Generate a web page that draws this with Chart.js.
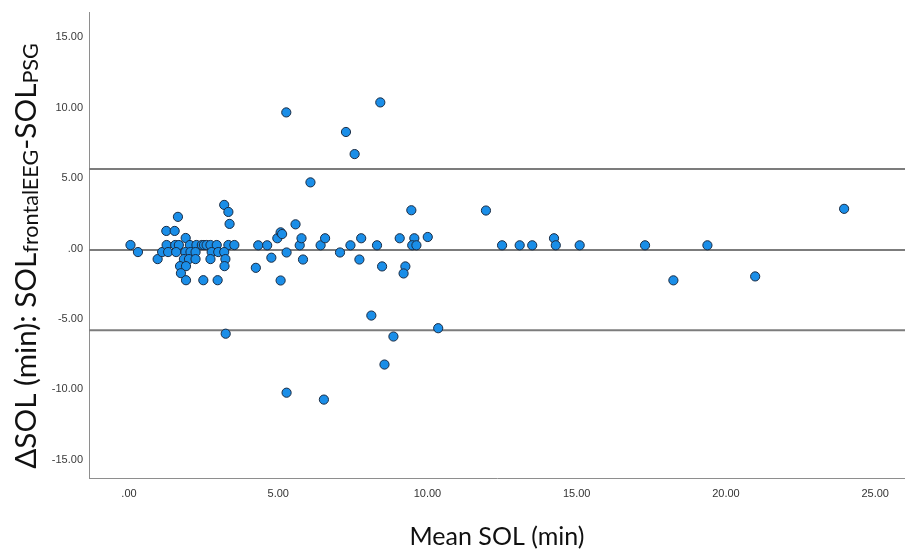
<!DOCTYPE html>
<html><head><meta charset="utf-8">
<script src="https://cdn.jsdelivr.net/npm/chart.js@4.4.1/dist/chart.umd.min.js"></script>
<style>html,body{margin:0;padding:0;background:#fff;} canvas{display:block}</style>
</head><body>
<canvas id="c" width="905" height="551"></canvas>
<script>
// ---- data ----
const meanSOL = [
  0.05,0.30,0.96,1.11,1.25,1.53,1.64,1.26,1.55,1.67,
  1.31,1.58,1.90,2.04,2.26,2.44,2.51,2.60,2.73,2.94,
  3.33,3.53,1.89,2.06,2.23,2.77,2.99,3.19,1.84,2.01,
  2.23,2.73,3.23,1.71,1.91,3.20,1.74,1.91,2.49,2.97,
  3.19,3.33,3.37,3.24,4.25,4.33,4.63,4.77,4.97,5.08,
  5.13,5.08,5.28,5.27,5.58,5.72,5.78,5.83,6.08,6.42,
  6.57,7.07,7.27,7.56,7.42,7.78,7.72,8.31,8.48,8.42,
  8.12,8.56,8.86,9.07,9.26,9.20,9.46,9.56,9.49,9.63,
  10.01,10.36,5.28,6.53,11.96,12.50,13.09,13.51,14.24,14.30,
  15.10,17.29,18.24,19.38,20.98,23.96
];
const diffSOL = [
  0.25,-0.25,-0.75,-0.25,1.25,1.25,2.25,0.25,0.25,0.25,
  -0.25,-0.25,0.75,0.25,0.25,0.25,0.25,0.25,0.25,0.25,
  0.25,0.25,-0.25,-0.25,-0.25,-0.25,-0.25,-0.25,-0.75,-0.75,
  -0.75,-0.75,-0.75,-1.25,-1.25,-1.25,-1.75,-2.25,-2.25,-2.25,
  3.10,2.60,1.75,-6.05,-1.37,0.23,0.23,-0.65,0.73,1.15,
  1.03,-2.27,-0.28,9.67,1.72,0.23,0.73,-0.78,4.70,0.23,
  0.73,-0.28,8.28,6.71,0.23,0.73,-0.78,0.23,-1.27,10.38,
  -4.76,-8.24,-6.25,0.73,-1.27,-1.77,2.72,0.73,0.23,0.23,
  0.82,-5.66,-10.24,-10.73,2.70,0.23,0.23,0.23,0.73,0.23,
  0.23,0.23,-2.26,0.23,-1.98,2.82
];
const biasLine = -0.10;
const upperLoA = 5.65;
const lowerLoA = -5.80;
const xTicks = [0, 5, 10, 15, 20, 25];
const yTicks = [-15, -10, -5, 0, 5, 10, 15];
const xRange = [-1.34, 26.0];
const yRange = [-16.3, 16.76];
const xTitle = 'Mean SOL (min)';
const yTitleParts = [
  ['ΔSOL (min): SOL', false],
  ['frontalEEG', true],
  ['-SOL', false],
  ['PSG', true]
];

// ---- helpers ----
function spssFmt(v) {
  const s = Math.abs(v).toFixed(2);
  const t = s.startsWith('0') ? s.slice(1) : s;
  return (v < 0 ? '-' : '') + t;
}
const points = meanSOL.map((m, i) => ({x: m, y: diffSOL[i]}));
const hLine = v => [{x: xRange[0], y: v}, {x: xRange[1], y: v}];

const titleFont = "Lato, 'Open Sans', 'Noto Sans', sans-serif";

const titlesPlugin = {
  id: 'titles',
  afterDraw(chart) {
    const ctx = chart.ctx;
    ctx.save();
    ctx.fillStyle = '#111';
    let big = 33, small = 24;
    const widthAt = (b, s) => yTitleParts.reduce((acc, [t, sub]) => {
      ctx.font = (sub ? s : b) + 'px ' + titleFont;
      return acc + ctx.measureText(t).width;
    }, 0);
    const k = 426 / widthAt(big, small);
    big *= k; small *= k;
    const total = widthAt(big, small);
    ctx.translate(36, 256);
    ctx.rotate(-Math.PI / 2);
    ctx.textBaseline = 'alphabetic';
    ctx.textAlign = 'left';
    let u = -total / 2;
    for (const [t, sub] of yTitleParts) {
      ctx.font = (sub ? small : big) + 'px ' + titleFont;
      ctx.fillText(t, u, sub ? 2 : 0);
      u += ctx.measureText(t).width;
    }
    ctx.restore();
    ctx.save();
    ctx.fillStyle = '#111';
    let fs = 27;
    ctx.font = fs + 'px ' + titleFont;
    fs = fs * 175 / ctx.measureText(xTitle).width;
    ctx.font = fs + 'px ' + titleFont;
    ctx.textAlign = 'center';
    ctx.textBaseline = 'middle';
    const xs = chart.scales.x;
    ctx.fillText(xTitle, (xs.left + xs.right) / 2, 537);
    ctx.restore();
  }
};

const lineStyle = {
  type: 'line', borderColor: '#7c7c7c', borderWidth: 2,
  pointRadius: 0, fill: false, tension: 0
};

new Chart(document.getElementById('c'), {
  type: 'scatter',
  data: {
    datasets: [
      {
        type: 'scatter', data: points,
        pointRadius: 4.6, pointHoverRadius: 4.6,
        backgroundColor: '#1a8ee8', borderColor: '#1a2c44', borderWidth: 1
      },
      Object.assign({data: hLine(upperLoA)}, lineStyle),
      Object.assign({data: hLine(biasLine)}, lineStyle),
      Object.assign({data: hLine(lowerLoA)}, lineStyle)
    ]
  },
  plugins: [titlesPlugin],
  options: {
    responsive: false,
    animation: false,
    layout: {autoPadding: false, padding: {top: 10, right: 0, left: 0, bottom: 0}},
    plugins: {legend: {display: false}, tooltip: {enabled: false}},
    scales: {
      x: {
        type: 'linear', min: xRange[0], max: xRange[1],
        afterBuildTicks: s => { s.ticks = xTicks.map(v => ({value: v})); },
        afterFit: s => { s.height = 73; },
        grid: {drawOnChartArea: false, drawTicks: false},
        border: {display: true, color: '#8e8e8e', width: 1},
        ticks: {
          callback: v => spssFmt(v), padding: 9, maxRotation: 0, autoSkip: false,
          color: '#333', font: {family: "'Liberation Sans Narrow', 'Liberation Sans', Arial, sans-serif", size: 11}
        }
      },
      y: {
        type: 'linear', min: yRange[0], max: yRange[1],
        afterBuildTicks: s => { s.ticks = yTicks.map(v => ({value: v})); },
        afterFit: s => { s.width = 89; },
        grid: {drawOnChartArea: false, drawTicks: false},
        border: {display: true, color: '#8e8e8e', width: 1},
        ticks: {
          callback: v => spssFmt(v), padding: 6, autoSkip: false,
          color: '#3a3a3a', font: {family: "'Liberation Sans', Arial, sans-serif", size: 11}
        }
      }
    }
  }
});
</script>
</body></html>
